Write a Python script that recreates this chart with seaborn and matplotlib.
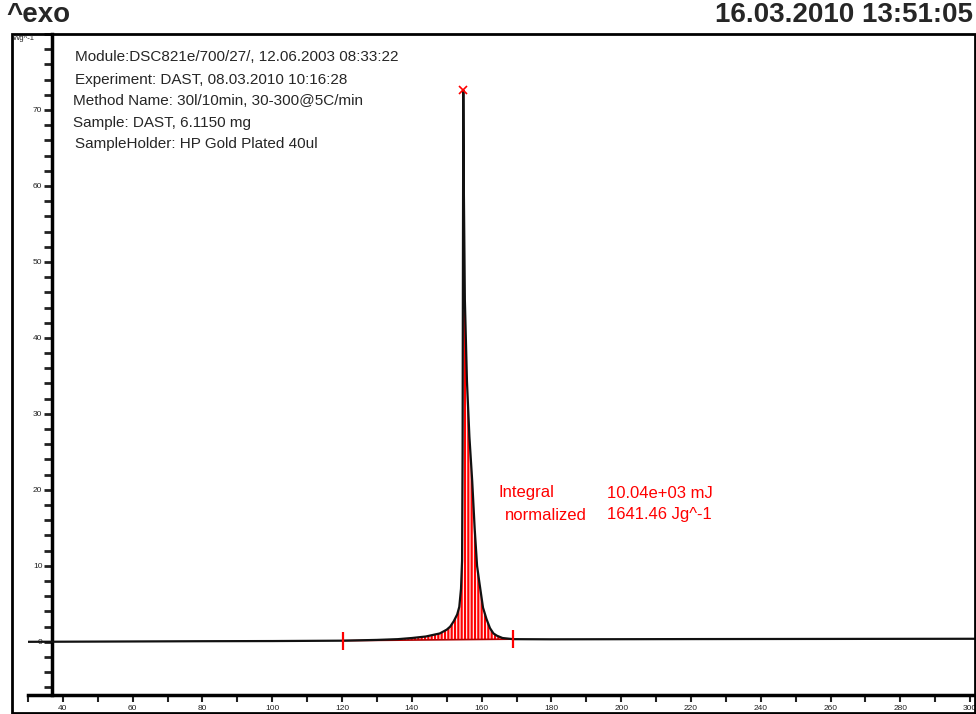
import numpy as np
import matplotlib
matplotlib.use("Agg")
import matplotlib.pyplot as plt
from matplotlib.patches import Rectangle
import seaborn as sns

# DSC run: heat flow (W/g) against temperature (°C)
temperature = [30, 50, 80, 100, 120, 130, 136, 140, 144, 146, 148, 150, 151, 152,
               153, 153.6, 154.1, 154.4, 154.55, 154.65, 154.75, 154.9, 155.2, 155.8,
               156.5, 157.3, 158.0, 158.7, 159.3, 160.4, 161.4, 162.4, 163.4, 164.4,
               166, 169, 180, 220, 260, 301.4]
heat_flow = [0.0, 0.03, 0.08, 0.10, 0.15, 0.25, 0.35, 0.5, 0.7, 0.9, 1.1, 1.6, 2.0, 2.7,
             3.6, 4.6, 7.0, 10.7, 25.0, 50.0, 72.6, 60.0, 45.0, 34.3,
             27.0, 21.2, 15.0, 10.0, 8.0, 4.5, 3.0, 1.8, 1.1, 0.8,
             0.5, 0.35, 0.33, 0.36, 0.38, 0.40]

# integration limits and peak
limit_temps = [120.3, 169.0]
limit_flows = [0.15, 0.35]
peak_temp = 154.75
peak_flow = 72.6

x_ticks = list(range(30, 301, 10))
y_ticks = list(range(-6, 81, 2))

header_lines = [
    "Module:DSC821e/700/27/, 12.06.2003 08:33:22",
    "Experiment: DAST, 08.03.2010 10:16:28",
    "Method Name: 30l/10min, 30-300@5C/min",
    "Sample: DAST, 6.1150 mg",
    "SampleHolder: HP Gold Plated 40ul",
]
integral_labels = ["Integral", "normalized"]
integral_values = ["10.04e+03 mJ", "1641.46 Jg^-1"]

sns.set_theme(style="white")
plt.rcParams["font.family"] = ["Liberation Sans", "DejaVu Sans"]
plt.rcParams["hatch.linewidth"] = 1.6

W, H = 976, 714
fig = plt.figure(figsize=(W / 100, H / 100), dpi=100)
fig.patch.set_facecolor("white")


def fx(px):
    return px / W


def fy(py):
    return 1 - py / H


ax = fig.add_axes([fx(28), fy(695), (975 - 28) / W, (695 - 34) / H])
ax.set_facecolor("white")

T = np.array(temperature)
HF = np.array(heat_flow)

# hatched integration area between the straight baseline and the curve
mask = (T >= limit_temps[0]) & (T <= limit_temps[1])
base = np.interp(T, limit_temps, limit_flows)
ax.fill_between(T[mask], base[mask], HF[mask], facecolor="none", edgecolor="red",
                hatch="|||||", linewidth=0, zorder=2)
ax.plot(limit_temps, limit_flows, color="#b00000", lw=1.2, zorder=2)

sns.lineplot(x=temperature, y=heat_flow, color="#111111", lw=1.6, ax=ax, zorder=3)

# limit markers and peak marker
ax.plot(limit_temps, limit_flows, ls="none", marker="|", ms=13, mew=1.6,
        color="red", zorder=4)
ax.plot([peak_temp], [peak_flow], ls="none", marker="x", ms=6, mew=1.2,
        color="red", zorder=4)

ax.set_xlim(30, 301.4)
ax.set_ylim(-7, 80)

ax.set_xticks(x_ticks)
ax.set_xticklabels([str(t) if (t % 20 == 0) else "" for t in x_ticks])
ax.set_yticks(y_ticks)
ax.set_yticklabels([str(t) if (t % 10 == 0 and 0 <= t < 80) else "" for t in y_ticks])
ax.tick_params(axis="x", direction="out", length=5, width=1.5, labelsize=6,
               pad=2, colors="#222222", bottom=True)
ax.tick_params(axis="y", direction="out", length=6, width=2, labelsize=6,
               pad=1, colors="#222222", left=True)
ax.set_xlabel("")
ax.set_ylabel("")

ax.spines["left"].set_position(("data", 36.9))
for side in ("left", "bottom"):
    ax.spines[side].set_linewidth(2.5)
    ax.spines[side].set_color("black")
ax.spines["top"].set_visible(False)
ax.spines["right"].set_visible(False)

# outer frame
fig.patches.append(Rectangle((fx(12), fy(713)), (975 - 12) / W, (713 - 34) / H,
                             transform=fig.transFigure, fill=False, lw=2,
                             ec="black", zorder=0))

# headings
fig.text(fx(6), fy(15), "^exo", fontsize=20, fontweight="bold", ha="left",
         va="center")
fig.text(fx(973), fy(15), "16.03.2010 13:51:05", fontsize=20, fontweight="bold",
         ha="right", va="center")
fig.text(fx(13), fy(38), "Wg^-1", fontsize=5.5, ha="left", va="center",
         color="#222222")

header_y = [57, 80, 101, 123, 144]
header_x = [75, 75, 73, 73, 75]
for txt, px, py in zip(header_lines, header_x, header_y):
    fig.text(fx(px), fy(py), txt, fontsize=11, ha="left", va="center")

for lab, val, lx, py in zip(integral_labels, integral_values, [498, 505], [493, 515]):
    fig.text(fx(lx), fy(py), lab, fontsize=12, color="red", ha="left", va="center")
    fig.text(fx(607), fy(py), val, fontsize=12, color="red", ha="left", va="center")

fig.savefig("out.png", dpi=100)
